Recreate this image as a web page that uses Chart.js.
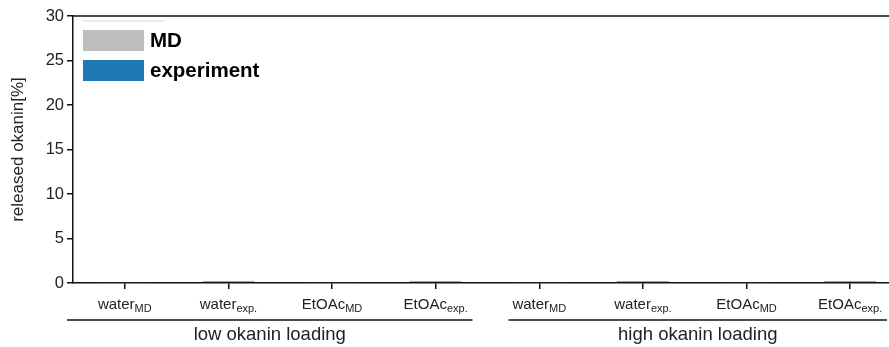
<!DOCTYPE html>
<html>
<head>
<meta charset="utf-8">
<script src="https://cdn.jsdelivr.net/npm/chart.js@4.4.0/dist/chart.umd.min.js"></script>
<style>
  html, body { margin: 0; padding: 0; background: #fff; overflow: hidden; }
  #wrap { width: 904px; height: 347px; }
</style>
</head>
<body>
<div id="wrap"><canvas id="chart" width="904" height="347"></canvas></div>
<script>
// --- data ---
const baseLabels = ['water', 'water', 'EtOAc', 'EtOAc', 'water', 'water', 'EtOAc', 'EtOAc'];
const subLabels = ['MD', 'exp.', 'MD', 'exp.', 'MD', 'exp.', 'MD', 'exp.'];
const groupNames = ['low okanin loading', 'high okanin loading'];
const groupSize = 4;
const seriesNames = ['MD', 'experiment'];
const mdValues = [0.05, null, 0.05, null, 0.05, null, 0.05, null];
const expValues = [null, 0.2, null, 0.2, null, 0.2, null, 0.2];
const yTicks = [0, 5, 10, 15, 20, 25, 30];

const FONT = '"Liberation Sans", Arial, sans-serif';
const INK = '#222';

const categories = baseLabels.map((b, i) => b + '_' + subLabels[i]);

// draws spine, subscript labels, group brackets and legend
const extras = {
    id: 'extras',
    afterDraw(chart) {
        const ctx = chart.ctx;
        const area = chart.chartArea;
        const xs = chart.scales.x;
        ctx.save();

        // top spine
        ctx.strokeStyle = '#111';
        ctx.lineWidth = 1.5;
        ctx.beginPath();
        ctx.moveTo(area.left, area.top);
        ctx.lineTo(chart.width, area.top);
        ctx.stroke();

        // tick labels with subscripts
        ctx.fillStyle = INK;
        ctx.textBaseline = 'alphabetic';
        const labelY = area.bottom + 26;
        categories.forEach((c, i) => {
            const x = xs.getPixelForTick(i);
            ctx.font = '15px ' + FONT;
            const w1 = ctx.measureText(baseLabels[i]).width;
            ctx.font = '11px ' + FONT;
            const w2 = ctx.measureText(subLabels[i]).width;
            const x0 = x - (w1 + w2) / 2;
            ctx.font = '15px ' + FONT;
            ctx.textAlign = 'left';
            ctx.fillText(baseLabels[i], x0, labelY);
            ctx.font = '11px ' + FONT;
            ctx.fillText(subLabels[i], x0 + w1, labelY + 3);
        });

        // group brackets
        const catW = xs.getPixelForTick(1) - xs.getPixelForTick(0);
        groupNames.forEach((g, gi) => {
            const first = gi * groupSize;
            const last = first + groupSize - 1;
            const leftEdge = xs.getPixelForTick(first) - catW / 2;
            const rightEdge = xs.getPixelForTick(last) + catW / 2;
            const x1 = gi === 0 ? leftEdge - 6 : leftEdge + 21;
            const x2 = rightEdge - 15;
            const ly = area.bottom + 37;
            ctx.strokeStyle = '#111';
            ctx.lineWidth = 1.5;
            ctx.beginPath();
            ctx.moveTo(x1, ly);
            ctx.lineTo(x2, ly);
            ctx.stroke();
            ctx.font = '18.5px ' + FONT;
            ctx.textAlign = 'center';
            ctx.textBaseline = 'middle';
            ctx.fillStyle = INK;
            ctx.fillText(g, (x1 + x2) / 2, area.bottom + 52);
        });

        // legend inside the axes
        ctx.strokeStyle = '#dddddd';
        ctx.lineWidth = 1;
        ctx.beginPath();
        ctx.moveTo(area.left + 9, area.top + 5);
        ctx.lineTo(area.left + 92, area.top + 5);
        ctx.stroke();
        chart.data.datasets.forEach((ds, i) => {
            const by = area.top + 14 + i * 30;
            ctx.fillStyle = ds.backgroundColor;
            ctx.fillRect(area.left + 10, by, 61, 21);
            ctx.font = 'bold 20.5px ' + FONT;
            ctx.textAlign = 'left';
            ctx.textBaseline = 'middle';
            ctx.fillStyle = '#000';
            ctx.fillText(ds.label, area.left + 77, by + 11);
        });

        ctx.restore();
    }
};

new Chart(document.getElementById('chart'), {
    type: 'bar',
    data: {
        labels: categories,
        datasets: [
            {
                label: seriesNames[0],
                data: mdValues,
                backgroundColor: '#bebebe',
                borderColor: '#9a9a9a',
                borderWidth: 1
            },
            {
                label: seriesNames[1],
                data: expValues,
                backgroundColor: '#1f77b4',
                borderColor: '#14466b',
                borderWidth: 1
            }
        ]
    },
    options: {
        responsive: false,
        devicePixelRatio: 1,
        animation: false,
        grouped: false,
        barPercentage: 0.5,
        categoryPercentage: 1,
        layout: { padding: { left: 0, right: 2, top: 16, bottom: 0 } },
        scales: {
            x: {
                offset: true,
                grid: { offset: false, drawOnChartArea: false, drawTicks: true, tickLength: 6, color: '#111', lineWidth: 1.5 },
                border: { display: true, color: '#111', width: 1.5 },
                ticks: { autoSkip: false, maxRotation: 0, callback: () => '' },
                afterFit: (scale) => { scale.height = 64; }
            },
            y: {
                min: 0,
                max: 30,
                afterBuildTicks: (scale) => { scale.ticks = yTicks.map(v => ({ value: v })); },
                ticks: { font: { size: 16.5, family: FONT }, color: INK, padding: 3 },
                grid: { drawOnChartArea: false, drawTicks: true, tickLength: 6, color: '#111', lineWidth: 1.5 },
                border: { display: true, color: '#111', width: 1.5 },
                title: {
                    display: true,
                    text: 'released okanin[%]',
                    font: { size: 17, family: FONT },
                    color: INK,
                    padding: { top: 8, bottom: 0 }
                },
                afterFit: (scale) => { scale.width = 73; }
            }
        },
        plugins: {
            legend: { display: false },
            tooltip: { enabled: false }
        }
    },
    plugins: [extras]
});
</script>
</body>
</html>
